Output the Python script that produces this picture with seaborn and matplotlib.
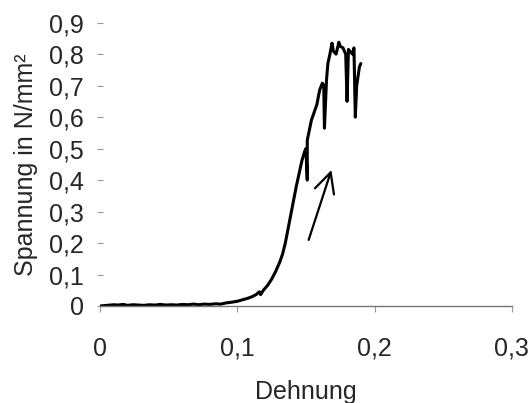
import matplotlib
matplotlib.use("Agg")
import matplotlib.pyplot as plt
import seaborn as sns
import pandas as pd

# Werte (Dehnung / Spannung in N/mm²)
dehnung = [0.000, 0.005, 0.010, 0.013, 0.017, 0.020, 0.024, 0.028, 0.032, 0.036,
           0.040, 0.044, 0.048, 0.052, 0.056, 0.060, 0.064, 0.068, 0.072, 0.076,
           0.080, 0.084, 0.088, 0.092, 0.096, 0.100, 0.104, 0.108, 0.111, 0.114,
           0.116, 0.117, 0.119, 0.122, 0.125, 0.128, 0.131, 0.133, 0.135, 0.137,
           0.139, 0.141, 0.143, 0.145, 0.147, 0.149, 0.150, 0.151, 0.151, 0.154,
           0.156, 0.158, 0.160, 0.162, 0.163, 0.1635, 0.165, 0.166, 0.1675, 0.169,
           0.170, 0.172, 0.174, 0.175, 0.177, 0.179, 0.180, 0.181, 0.182, 0.184,
           0.185, 0.186, 0.187, 0.189, 0.190]
spannung = [0.000, 0.002, 0.004, 0.003, 0.005, 0.002, 0.004, 0.003, 0.002, 0.004,
            0.003, 0.005, 0.003, 0.004, 0.003, 0.005, 0.004, 0.006, 0.004, 0.006,
            0.005, 0.007, 0.006, 0.010, 0.012, 0.015, 0.020, 0.025, 0.030, 0.037,
            0.045, 0.036, 0.050, 0.065, 0.085, 0.110, 0.140, 0.165, 0.200, 0.245,
            0.290, 0.335, 0.380, 0.420, 0.460, 0.490, 0.500, 0.400, 0.527, 0.590,
            0.615, 0.640, 0.686, 0.708, 0.700, 0.565, 0.717, 0.770, 0.800, 0.835,
            0.810, 0.800, 0.838, 0.825, 0.820, 0.800, 0.650, 0.815, 0.810, 0.800,
            0.820, 0.600, 0.700, 0.760, 0.770]

# Pfeil (Ende / Spitze)
pfeil_start = (0.152, 0.21)
pfeil_ende = (0.1686, 0.432)

x_ticks = [0, 0.1, 0.2, 0.3]
x_labels = ["0", "0,1", "0,2", "0,3"]
y_ticks = [0, 0.1, 0.2, 0.3, 0.4, 0.5, 0.6, 0.7, 0.8, 0.9]
y_labels = ["0", "0,1", "0,2", "0,3", "0,4", "0,5", "0,6", "0,7", "0,8", "0,9"]

sns.set_style("white")
plt.rcParams['font.family'] = ['Liberation Sans', 'DejaVu Sans']
plt.rcParams['font.size'] = 18

df = pd.DataFrame({"Dehnung": dehnung, "Spannung": spannung})

fig = plt.figure(figsize=(5.32, 4.03), dpi=100)
ax = fig.add_axes([0.188, 0.2407, 0.774, 0.703])

sns.lineplot(data=df, x="Dehnung", y="Spannung", sort=False, estimator=None,
             color="black", linewidth=2.2, ax=ax)

ax.annotate("", xy=pfeil_ende, xytext=pfeil_start,
            arrowprops=dict(arrowstyle="->,head_length=1.44,head_width=0.72",
                            color="black", lw=1.6, shrinkA=0, shrinkB=0,
                            mutation_scale=10))

ax.set_xlim(0, 0.3)
ax.set_ylim(0, 0.9)
ax.set_xticks(x_ticks)
ax.set_xticklabels(x_labels)
ax.set_yticks(y_ticks)
ax.set_yticklabels(y_labels)

for s in ["left", "top", "right"]:
    ax.spines[s].set_visible(False)
ax.spines["bottom"].set_color("#777777")
ax.spines["bottom"].set_linewidth(1.0)

ax.tick_params(axis="x", direction="out", length=4, width=0.8, color="#999999",
               pad=18, labelsize=18)
ax.tick_params(axis="y", direction="inout", length=5, width=0.8, color="#999999",
               pad=9, labelsize=18)
ax.tick_params(bottom=True, left=True)

ax.set_xlabel("Dehnung", fontsize=18, labelpad=14)
ax.set_ylabel("Spannung in N/mm²", fontsize=18, labelpad=8)
ax.grid(False)

fig.savefig("out.png", dpi=100)
